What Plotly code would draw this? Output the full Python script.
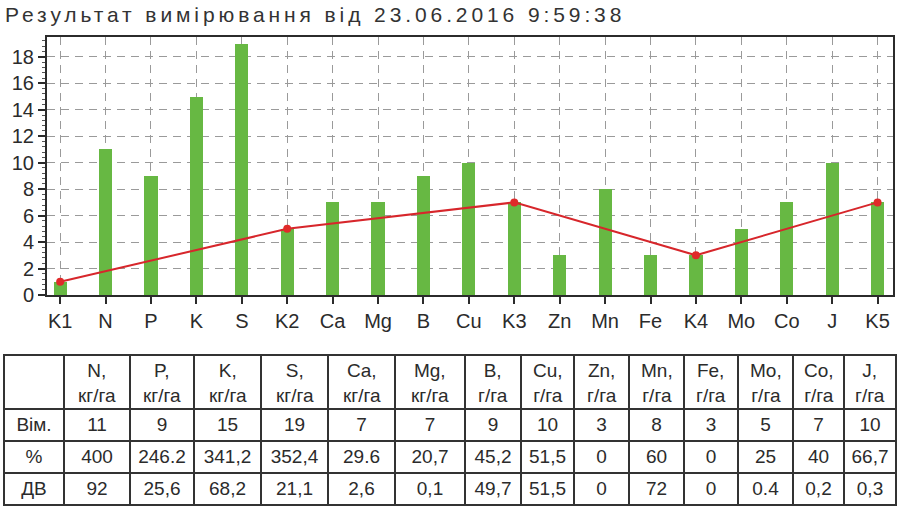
import plotly.graph_objects as go

# ---- data ----
categories = ["K1", "N", "P", "K", "S", "K2", "Ca", "Mg", "B", "Cu",
              "K3", "Zn", "Mn", "Fe", "K4", "Mo", "Co", "J", "K5"]
bar_values = [1, 11, 9, 15, 19, 5, 7, 7, 9, 10, 7, 3, 8, 3, 3, 5, 7, 10, 7]
control_cats = ["K1", "K2", "K3", "K4", "K5"]
control_values = [1, 5, 7, 3, 7]
y_ticks = [0, 2, 4, 6, 8, 10, 12, 14, 16, 18]

title_text = "Результат вимірювання від 23.06.2016 9:59:38"

table_headers = ["", "N,<br>кг/га", "P,<br>кг/га", "K,<br>кг/га", "S,<br>кг/га",
                 "Ca,<br>кг/га", "Mg,<br>кг/га", "B,<br>г/га", "Cu,<br>г/га",
                 "Zn,<br>г/га", "Mn,<br>г/га", "Fe,<br>г/га", "Mo,<br>г/га",
                 "Co,<br>г/га", "J,<br>г/га"]
row_labels = ["Вім.", "%", "ДВ"]
row_vim = ["11", "9", "15", "19", "7", "7", "9", "10", "3", "8", "3", "5", "7", "10"]
row_pct = ["400", "246.2", "341,2", "352,4", "29.6", "20,7", "45,2", "51,5",
           "0", "60", "0", "25", "40", "66,7"]
row_dv = ["92", "25,6", "68,2", "21,1", "2,6", "0,1", "49,7", "51,5",
          "0", "72", "0", "0.4", "0,2", "0,3"]
col_widths = [60, 66, 64, 67, 67, 67, 70, 56, 53, 55, 55, 54, 55, 51, 52]

# ---- figure ----
W, H = 900, 509
FONT = "Liberation Sans, Arial, sans-serif"
DARK = "#2b2b2b"
TBL_X0, TBL_X1 = 4, 896          # table left/right (px)
TBL_TOP, TBL_BOT = 355, 506      # table top/bottom (px)
HEAD_H, ROW_H = 54, 32

fig = go.Figure()

fig.add_trace(go.Bar(
    x=categories, y=bar_values, width=0.29,
    marker=dict(color="#67b843", line=dict(width=0)),
    showlegend=False, hoverinfo="x+y",
))
fig.add_trace(go.Scatter(
    x=control_cats, y=control_values, mode="lines+markers",
    line=dict(color="#d7262b", width=2),
    marker=dict(color="#e02a2a", size=8),
    showlegend=False,
))

columns = [[r for r in row_labels]]
for i in range(len(row_vim)):
    columns.append([row_vim[i], row_pct[i], row_dv[i]])

fig.add_trace(go.Table(
    domain=dict(x=[TBL_X0 / W, TBL_X1 / W], y=[(H - TBL_BOT) / H, (H - TBL_TOP) / H]),
    columnwidth=col_widths,
    header=dict(values=[""] * len(table_headers), height=HEAD_H, align="center",
                line=dict(color="#333333", width=1.5),
                fill=dict(color="white"),
                font=dict(family=FONT, size=18, color=DARK)),
    cells=dict(values=columns, height=ROW_H, align="center",
               line=dict(color="#333333", width=1.5),
               fill=dict(color="white"),
               font=dict(family=FONT, size=19, color=DARK)),
))

# header texts (two centred lines per column)
annotations = [dict(
    text=title_text, xref="paper", yref="paper",
    x=5 / W, y=1 - 1 / H, xanchor="left", yanchor="top",
    showarrow=False, font=dict(size=21, color="#333333", family=FONT),
)]
total_w = sum(col_widths)
scale = (TBL_X1 - TBL_X0) / total_w
left = TBL_X0
head_cy = TBL_TOP + HEAD_H / 2 + 1
for w, txt in zip(col_widths, table_headers):
    if txt:
        cx = left + w * scale / 2
        annotations.append(dict(
            text=txt, xref="paper", yref="paper",
            x=cx / W, y=1 - head_cy / H, xanchor="center", yanchor="middle",
            align="center", showarrow=False,
            font=dict(size=19, color=DARK, family=FONT),
        ))
    left += w * scale

fig.update_layout(
    width=W, height=H,
    margin=dict(l=0, r=0, t=0, b=0, autoexpand=False),
    paper_bgcolor="white", plot_bgcolor="white",
    bargap=0,
    font=dict(family=FONT, color=DARK),
    xaxis=dict(
        domain=[47 / W, 893 / W],
        type="category", categoryorder="array", categoryarray=categories,
        range=[-0.29, 18.34],
        showline=True, mirror=True, linecolor=DARK, linewidth=2,
        ticks="outside", ticklen=7, tickwidth=2, tickcolor=DARK,
        showgrid=True, gridcolor="#9a9a9a", griddash="8px,6px", gridwidth=1,
        tickfont=dict(size=20, color=DARK, family=FONT),
        automargin=False,
        fixedrange=True,
    ),
    yaxis=dict(
        domain=[(H - 295) / H, (H - 37) / H],
        range=[0, 19.5],
        tickvals=y_ticks,
        showline=True, mirror=True, linecolor=DARK, linewidth=2,
        ticks="outside", ticklen=7, tickwidth=2, tickcolor=DARK,
        minor=dict(dtick=0.4, tick0=0, ticks="outside", ticklen=3,
                   tickcolor="#555555", tickwidth=1, showgrid=False),
        showgrid=True, gridcolor="#9a9a9a", griddash="8px,6px", gridwidth=1,
        zeroline=False,
        tickfont=dict(size=20, color=DARK, family=FONT),
        automargin=False,
        fixedrange=True,
    ),
    annotations=annotations,
)

post = """
document.body.style.margin='0';
document.body.style.overflow='hidden';
var gd=document.getElementById('{plot_id}');
var t=gd.querySelectorAll('.annotation-text')[0];
if(t){
  t.style.letterSpacing='3.9px';
  var r=t.getBoundingClientRect();
  var dx=5-r.left;
  var tr=t.getAttribute('transform')||'';
  t.setAttribute('transform','translate('+dx+',0) '+tr);
}
"""

fig.write_html("out.html", config={"displayModeBar": False}, post_script=post)
